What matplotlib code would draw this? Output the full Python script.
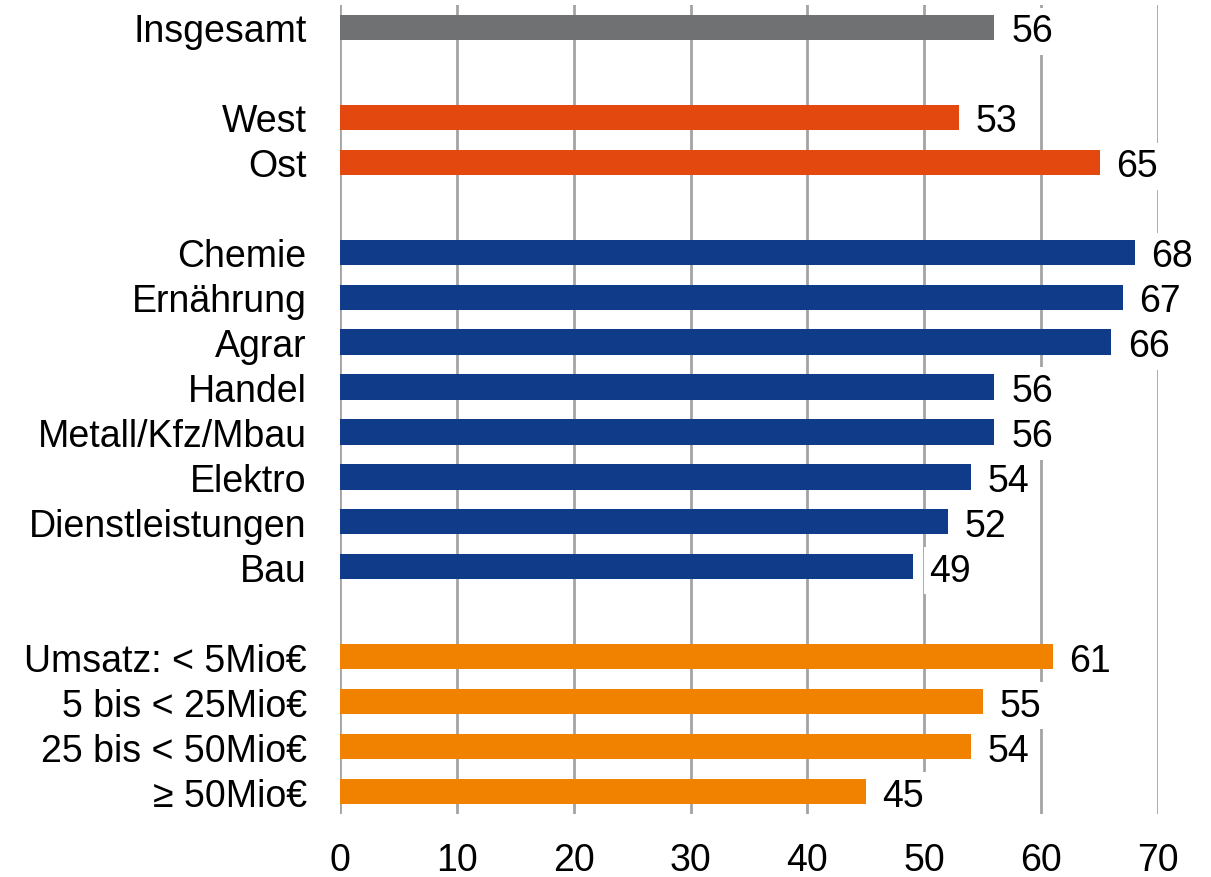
import matplotlib
matplotlib.use("Agg")
import matplotlib.pyplot as plt

plt.rcParams['font.family'] = ['Liberation Sans', 'DejaVu Sans']

# data, grouped as shown (top to bottom)
total_labels = ["Insgesamt"]
total_values = [56]

region_labels = ["West", "Ost"]
region_values = [53, 65]

branch_labels = ["Chemie", "Ernährung", "Agrar", "Handel", "Metall/Kfz/Mbau",
                 "Elektro", "Dienstleistungen", "Bau"]
branch_values = [68, 67, 66, 56, 56, 54, 52, 49]

sales_labels = ["Umsatz: < 5Mio€", "5 bis < 25Mio€", "25 bis < 50Mio€", "≥ 50Mio€"]
sales_values = [61, 55, 54, 45]

groups = [
    (total_labels, total_values, "#707173"),
    (region_labels, region_values, "#E3490F"),
    (branch_labels, branch_values, "#0F3B89"),
    (sales_labels, sales_values, "#F08200"),
]

fig = plt.figure(figsize=(12.11, 8.78), dpi=100)
ax = fig.add_axes([340 / 1211, 63 / 878, 818 / 1211, 809 / 878])

ypos, labels = [], []
pos = 0
for lab, vals, col in groups:
    ys = list(range(pos, pos + len(vals)))
    ax.barh(ys, vals, height=0.56, color=col, zorder=2)
    for y, v in zip(ys, vals):
        ax.annotate(str(v), (v, y), xytext=(12, 0), textcoords="offset points",
                    ha="left", va="center_baseline", fontsize=27, zorder=4,
                    bbox=dict(boxstyle="square,pad=0.15", fc="white", ec="none"))
    ypos += ys
    labels += lab
    pos += len(vals) + 1

ax.set_yticks(ypos)
ax.set_yticklabels(labels, fontsize=27, va="center_baseline")
ax.set_ylim(pos - 1.5, -0.5)
ax.set_xlim(0, 70)
ax.set_xticks(range(0, 71, 10))
ax.tick_params(axis="x", labelsize=27, length=0, pad=20)
ax.tick_params(axis="y", length=0, pad=24)

ax.set_axisbelow(True)
ax.xaxis.grid(True, color="#A3A3A3", linewidth=2, zorder=0)
for s in ax.spines.values():
    s.set_visible(False)

fig.savefig("out.png", dpi=100)
